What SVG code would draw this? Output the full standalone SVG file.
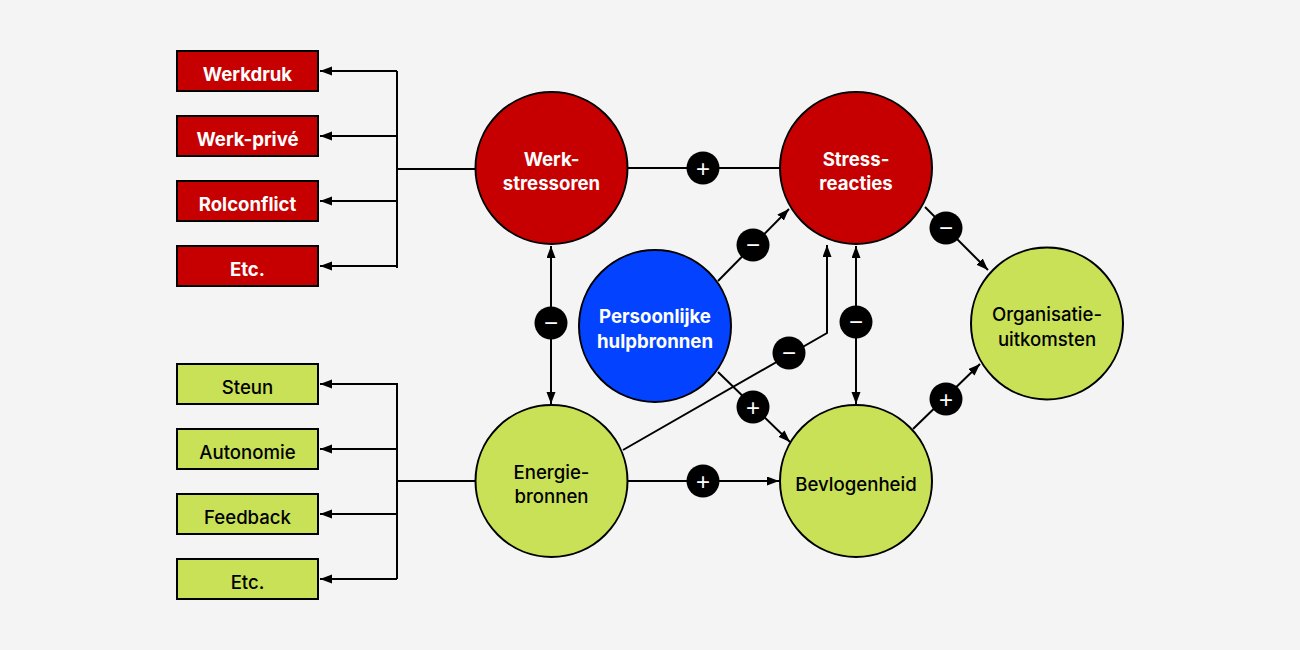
<svg xmlns="http://www.w3.org/2000/svg" width="1300" height="650" viewBox="0 0 1300 650">
<defs>
<marker id="ah" markerUnits="userSpaceOnUse" markerWidth="13" markerHeight="10" refX="12" refY="4.5" orient="auto-start-reverse">
<path d="M0,0 L12,4.5 L0,9 z" fill="#000"/>
</marker>
<style>
.bg{fill:#f4f4f4}
.red{fill:#c60000;stroke:#000;stroke-width:2}
.grn{fill:#c9e157;stroke:#000;stroke-width:2}
.blu{fill:#0343ff;stroke:#000;stroke-width:2}
.ln{fill:none;stroke:#000;stroke-width:2}
.arr{fill:none;stroke:#000;stroke-width:2;marker-end:url(#ah)}
.dbl{fill:none;stroke:#000;stroke-width:2;marker-end:url(#ah);marker-start:url(#ah)}
.bdg{fill:#000}
.sg{fill:#fff;font-family:"Liberation Sans",sans-serif;font-size:24px;text-anchor:middle}
.tw{fill:#fff;font-family:Inter,"Liberation Sans",sans-serif;font-weight:700;font-size:18.6px;text-anchor:middle}
.tb{fill:#000;font-family:Inter,"Liberation Sans",sans-serif;font-weight:500;font-size:18.6px;text-anchor:middle}
</style>
</defs>
<rect class="bg" x="0" y="0" width="1300" height="650"/>
<g id="connectors">
<path class="ln" d="M475,169 H397 V71 M397,136 V268"/>
<path class="arr" d="M397,71 H320"/>
<path class="arr" d="M397,136 H320"/>
<path class="arr" d="M397,201 H320"/>
<path class="arr" d="M397,266 H320"/>
<path class="ln" d="M475,481 H397 V383 M397,448 V579"/>
<path class="arr" d="M397,384 H320"/>
<path class="arr" d="M397,449 H320"/>
<path class="arr" d="M397,514 H320"/>
<path class="arr" d="M397,579 H320"/>
<path class="ln" d="M628,168 H780"/>
<path class="dbl" d="M551,246 V404"/>
<path class="arr" d="M718,281 L789,209"/>
<path class="arr" d="M718,372 L790,442"/>
<path class="arr" d="M623,450 L827,333 V245"/>
<path class="dbl" d="M856,246 V404"/>
<path class="arr" d="M628,481 H779"/>
<path class="arr" d="M925,207 L988,270"/>
<path class="arr" d="M913,429 L980,364"/>
<g id="badges">
<circle class="bdg" cx="703" cy="168" r="16.5"/><text class="sg" x="703" y="176.5">+</text>
<circle class="bdg" cx="551" cy="323" r="16.5"/><text class="sg" x="551" y="331">−</text>
<circle class="bdg" cx="753" cy="245" r="16.5"/><text class="sg" x="753" y="253">−</text>
<circle class="bdg" cx="789" cy="353" r="16.5"/><text class="sg" x="789" y="361">−</text>
<circle class="bdg" cx="753" cy="407" r="16.5"/><text class="sg" x="753" y="415.5">+</text>
<circle class="bdg" cx="856" cy="322" r="16.5"/><text class="sg" x="856" y="330">−</text>
<circle class="bdg" cx="703" cy="481" r="16.5"/><text class="sg" x="703" y="489.5">+</text>
<circle class="bdg" cx="946" cy="228" r="16.5"/><text class="sg" x="946" y="236">−</text>
<circle class="bdg" cx="946" cy="399" r="16.5"/><text class="sg" x="946" y="407.5">+</text>
</g>
</g>
<g id="werkdruk"><rect class="red" x="177" y="51" width="141" height="40"/><text class="tw" x="247.5" y="81">Werkdruk</text></g>
<g id="werkprive"><rect class="red" x="177" y="116" width="141" height="40"/><text class="tw" x="247.5" y="146">Werk-privé</text></g>
<g id="rolconflict"><rect class="red" x="177" y="181" width="141" height="40"/><text class="tw" x="247.5" y="211">Rolconflict</text></g>
<g id="etc1"><rect class="red" x="177" y="246" width="141" height="40"/><text class="tw" x="247.5" y="276">Etc.</text></g>
<g id="steun"><rect class="grn" x="177" y="364" width="141" height="40"/><text class="tb" x="247.5" y="394">Steun</text></g>
<g id="autonomie"><rect class="grn" x="177" y="429" width="141" height="40"/><text class="tb" x="247.5" y="459">Autonomie</text></g>
<g id="feedback"><rect class="grn" x="177" y="494" width="141" height="40"/><text class="tb" x="247.5" y="524">Feedback</text></g>
<g id="etc2"><rect class="grn" x="177" y="559" width="141" height="40"/><text class="tb" x="247.5" y="589">Etc.</text></g>
<g id="werkstressoren"><circle class="red" cx="551.5" cy="168" r="76"/><text class="tw" x="551.5" y="166">Werk-</text><text class="tw" x="551.5" y="190">stressoren</text></g>
<g id="stressreacties"><circle class="red" cx="856" cy="168" r="76"/><text class="tw" x="856" y="166">Stress-</text><text class="tw" x="856" y="190">reacties</text></g>
<g id="persoonlijke"><circle class="blu" cx="655" cy="326" r="76"/><text class="tw" x="655" y="323">Persoonlijke</text><text class="tw" x="655" y="348">hulpbronnen</text></g>
<g id="energiebronnen"><circle class="grn" cx="551.5" cy="481" r="76"/><text class="tb" x="551.5" y="479">Energie-</text><text class="tb" x="551.5" y="503">bronnen</text></g>
<g id="bevlogenheid"><circle class="grn" cx="856" cy="481" r="76"/><text class="tb" x="856" y="491">Bevlogenheid</text></g>
<g id="organisatie"><circle class="grn" cx="1047" cy="323.5" r="76"/><text class="tb" x="1047" y="321">Organisatie-</text><text class="tb" x="1047" y="346">uitkomsten</text></g>
</svg>
